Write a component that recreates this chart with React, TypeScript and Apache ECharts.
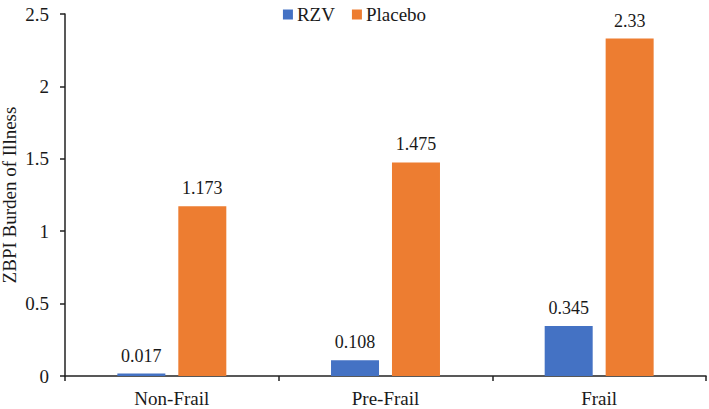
import React, { useEffect, useRef } from "react";
import * as echarts from "echarts";

const categories = ["Non-Frail", "Pre-Frail", "Frail"];
const rzvValues = [0.017, 0.108, 0.345];
const placeboValues = [1.173, 1.475, 2.33];
const seriesNames = ["RZV", "Placebo"];
const yTitle = "ZBPI Burden of Illness";

const FONT = "'Liberation Serif', 'Times New Roman', serif";

export default function App() {
  const ref = useRef<HTMLDivElement>(null);
  useEffect(() => {
    if (!ref.current) return;
    const chart = echarts.init(ref.current, undefined, { renderer: "svg" });
    const label = {
      show: true,
      position: "top",
      distance: 9,
      color: "#1a1a1a",
      fontFamily: FONT,
      fontSize: 18,
    };
    chart.setOption({
      animation: false,
      textStyle: { fontFamily: FONT },
      legend: {
        top: 0,
        left: "center",
        itemWidth: 10,
        itemHeight: 10,
        itemGap: 17,
        icon: "rect",
        textStyle: { fontFamily: FONT, fontSize: 19, color: "#1a1a1a", padding: [0, 0, 0, -1] },
        data: seriesNames,
      },
      grid: { left: 65, right: 3, top: 14, bottom: 33, containLabel: false, outerBoundsMode: "none" },
      xAxis: {
        type: "category",
        data: categories,
        axisLine: { lineStyle: { color: "#222", width: 1.5 } },
        axisTick: { show: true, length: 5, lineStyle: { color: "#222", width: 1.5 } },
        axisLabel: { fontFamily: FONT, fontSize: 19, color: "#1a1a1a", margin: 13 },
      },
      yAxis: {
        type: "value",
        min: 0,
        max: 2.5,
        interval: 0.5,
        name: yTitle,
        nameLocation: "middle",
        nameGap: 46,
        nameMoveOverlap: false,
        nameTextStyle: { fontFamily: FONT, fontSize: 19, color: "#1a1a1a" },
        axisLine: { show: true, lineStyle: { color: "#222", width: 1.5 } },
        axisTick: { show: true, length: 5, lineStyle: { color: "#222", width: 1.5 } },
        axisLabel: { fontFamily: FONT, fontSize: 19, color: "#1a1a1a", margin: 16 },
        splitLine: { show: false },
      },
      series: [
        {
          name: seriesNames[0],
          type: "bar",
          data: rzvValues,
          barWidth: 48,
          barGap: "27%",
          itemStyle: { color: "#4472C4" },
          label,
        },
        {
          name: seriesNames[1],
          type: "bar",
          data: placeboValues,
          barWidth: 48,
          itemStyle: { color: "#ED7D31" },
          label,
        },
      ],
    });
    return () => chart.dispose();
  }, []);
  return <div ref={ref} style={{ width: 709, height: 409, position: "absolute", left: 0, top: 0 }} />;
}
